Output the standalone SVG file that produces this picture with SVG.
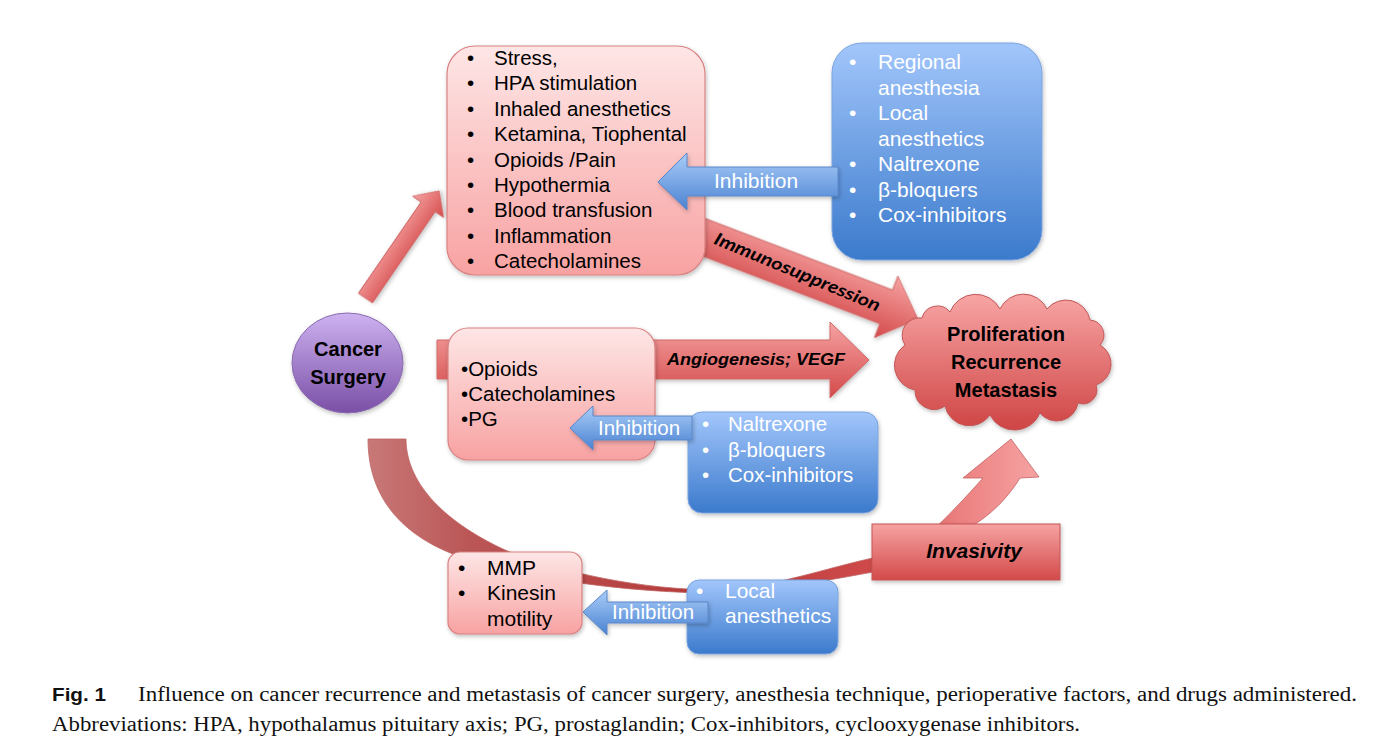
<svg xmlns="http://www.w3.org/2000/svg" width="1378" height="743" viewBox="0 0 1378 743">
<defs>
<linearGradient id="gPink" x1="0" y1="0" x2="0" y2="1"><stop offset="0" stop-color="#fee6e6"/><stop offset="1" stop-color="#f8a2a2"/></linearGradient>
<linearGradient id="gBlue" x1="0" y1="0" x2="0" y2="1"><stop offset="0" stop-color="#a2c6fb"/><stop offset="1" stop-color="#3b7acc"/></linearGradient>
<linearGradient id="gBlueArrow" x1="0" y1="0" x2="0" y2="1"><stop offset="0" stop-color="#aacdf8"/><stop offset="1" stop-color="#4a82d2"/></linearGradient>
<linearGradient id="gRed" x1="0" y1="0" x2="0" y2="1"><stop offset="0" stop-color="#f6a2a2"/><stop offset="1" stop-color="#d44a4a"/></linearGradient>
<linearGradient id="gCloud" x1="0" y1="0" x2="0" y2="1"><stop offset="0" stop-color="#f8a5a5"/><stop offset="1" stop-color="#cf4444"/></linearGradient>
<linearGradient id="gPurple" x1="0" y1="0" x2="0" y2="1"><stop offset="0" stop-color="#cdb2f0"/><stop offset="1" stop-color="#7a4fa6"/></linearGradient>
<linearGradient id="gBand" gradientUnits="userSpaceOnUse" x1="368" y1="440" x2="1040" y2="440">
<stop offset="0" stop-color="#c87878"/><stop offset="0.15" stop-color="#bb5656"/><stop offset="0.5" stop-color="#b53a3a"/><stop offset="0.75" stop-color="#cf4a4a"/><stop offset="0.88" stop-color="#ec8080"/><stop offset="1" stop-color="#f6a3a3"/>
</linearGradient>
<filter id="sh" x="-10%" y="-10%" width="125%" height="130%"><feDropShadow dx="1" dy="2" stdDeviation="2" flood-color="#000" flood-opacity="0.25"/></filter>
</defs>
<style>
.t{font-family:'Liberation Sans',Arial,Helvetica,sans-serif;}
.pink{fill:url(#gPink);stroke:#d98282;stroke-width:1.2;}
.blue{fill:url(#gBlue);stroke:#7aa3de;stroke-width:1;}
.barrow{fill:url(#gBlueArrow);stroke:#5a86c8;stroke-width:1;}
.rarrow{fill:url(#gRed);stroke:#d06a6a;stroke-width:1;}
.blk{fill:#000;}
.wht{fill:#fff;}
.cap{font-family:'Liberation Serif','Times New Roman',serif;font-size:20px;fill:#111;}
</style>
<rect width="1378" height="743" fill="#fff"/>

<g id="connectors">
  <path id="invasivity-curve" d="M368,439 C368,500 405,540 470,560 C520,575 600,590 700,593 C760,593 830,580 873,572 C905,562 950,515 983,478 L963,478 L1011,439 L1039,477 L1020,478 C1000,510 965,545 873,558 C830,567 770,588 720,590 C640,590 560,572 505,550 C440,520 406,480 406,439 Z" fill="url(#gBand)" stroke="#c06262" stroke-width="0.8"/>
  <path id="arrow-up" class="rarrow" transform="translate(365.5,298) rotate(-55.5)" d="M0,-8.5 L110.7,-8.5 L110.7,-18.7 L130,0 L110.7,18.7 L110.7,8.5 L0,8.5 Z" filter="url(#sh)"/>
  <g id="arrow-immuno">
    <path class="rarrow" transform="translate(690,232) rotate(20.9)" d="M0,-18 L210,-18 L210,-33 L244,0 L210,33 L210,18 L0,18 Z" filter="url(#sh)"/>
    <text class="t" transform="translate(795,277.5) rotate(22.5)" text-anchor="middle" font-size="17.5" font-weight="bold" font-style="italic" fill="#000" textLength="178" lengthAdjust="spacingAndGlyphs" style="font-family:Lato,'Liberation Sans',sans-serif">Immunosuppression</text>
  </g>
  <g id="arrow-angio">
    <path class="rarrow" d="M437,340 L830,340 L830,322 L869,360 L830,398 L830,379 L437,379 Z" filter="url(#sh)"/>
    <text class="t" x="667" y="365" font-size="16.8" font-weight="bold" font-style="italic" fill="#000" textLength="178" lengthAdjust="spacingAndGlyphs">Angiogenesis; VEGF</text>
  </g>
</g>

<g id="node-factors">
  <rect class="pink" x="447" y="46" width="258" height="229" rx="28" filter="url(#sh)"/>
  <g class="t blk" font-size="20.5">
    <text x="467" y="65">•</text><text x="494" y="65">Stress,</text>
    <text x="467" y="90.4">•</text><text x="494" y="90.4">HPA stimulation</text>
    <text x="467" y="115.8">•</text><text x="494" y="115.8">Inhaled anesthetics</text>
    <text x="467" y="141.2">•</text><text x="494" y="141.2">Ketamina, Tiophental</text>
    <text x="467" y="166.6">•</text><text x="494" y="166.6">Opioids /Pain</text>
    <text x="467" y="192">•</text><text x="494" y="192">Hypothermia</text>
    <text x="467" y="217.4">•</text><text x="494" y="217.4">Blood transfusion</text>
    <text x="467" y="242.8">•</text><text x="494" y="242.8">Inflammation</text>
    <text x="467" y="268.2">•</text><text x="494" y="268.2">Catecholamines</text>
  </g>
</g>

<g id="node-regional">
  <rect class="blue" x="832" y="43" width="210" height="217" rx="30" filter="url(#sh)"/>
  <g class="t wht" font-size="21">
    <text x="849" y="69">•</text><text x="878" y="69">Regional</text>
    <text x="878" y="94.5">anesthesia</text>
    <text x="849" y="120">•</text><text x="878" y="120">Local</text>
    <text x="878" y="145.5">anesthetics</text>
    <text x="849" y="171">•</text><text x="878" y="171">Naltrexone</text>
    <text x="849" y="196.5">•</text><text x="878" y="196.5">β-bloquers</text>
    <text x="849" y="222">•</text><text x="878" y="222">Cox-inhibitors</text>
  </g>
</g>

<g id="node-surgery">
  <ellipse cx="347.5" cy="363" rx="55.5" ry="50" fill="url(#gPurple)" stroke="#8b6bb0" stroke-width="1" filter="url(#sh)"/>
  <text class="t blk" x="348" y="356" text-anchor="middle" font-size="20" font-weight="bold">Cancer</text>
  <text class="t blk" x="348" y="384" text-anchor="middle" font-size="20" font-weight="bold">Surgery</text>
</g>

<g id="node-mediators">
  <rect class="pink" x="448" y="328" width="207" height="132" rx="20" filter="url(#sh)"/>
  <g class="t blk" font-size="20.5">
    <text x="461" y="376">•Opioids</text>
    <text x="461" y="401">•Catecholamines</text>
    <text x="461" y="426">•PG</text>
  </g>
</g>

<g id="node-drugs">
  <rect class="blue" x="688" y="412" width="190" height="101" rx="14" filter="url(#sh)"/>
  <g class="t wht" font-size="20.5">
    <text x="702" y="431">•</text><text x="728" y="431">Naltrexone</text>
    <text x="702" y="457">•</text><text x="728" y="457">β-bloquers</text>
    <text x="702" y="482">•</text><text x="728" y="482">Cox-inhibitors</text>
  </g>
</g>

<g id="node-outcome">
  <path d="M905,345 A17.5,17.5 0 0 1 922,318 A16,16 0 0 1 950,312 A27.5,27.5 0 0 1 1000,309 A26,26 0 0 1 1047,309 A24.5,24.5 0 0 1 1090,320 A15,15 0 0 1 1100,345 A22,22 0 0 1 1096,385 A14,14 0 0 1 1078,403 A21.5,21.5 0 0 1 1040,413 A27.5,27.5 0 0 1 990,415 A25,25 0 0 1 945,406 A19,19 0 0 1 915,390 A25,25 0 0 1 905,345 Z" fill="url(#gCloud)" stroke="#c25858" stroke-width="1" filter="url(#sh)"/>
  <g class="t blk" font-size="20" font-weight="bold" text-anchor="middle">
    <text x="1006" y="341">Proliferation</text>
    <text x="1006" y="369">Recurrence</text>
    <text x="1006" y="397">Metastasis</text>
  </g>
</g>

<g id="node-invasivity">
  <rect x="872" y="524" width="188" height="56" fill="url(#gRed)" stroke="#c45454" stroke-width="1" filter="url(#sh)"/>
  <text class="t blk" x="974" y="558" text-anchor="middle" font-size="21" font-weight="bold" font-style="italic">Invasivity</text>
</g>

<g id="node-mmp">
  <rect class="pink" x="448" y="552" width="134" height="82" rx="12" filter="url(#sh)"/>
  <g class="t blk" font-size="21">
    <text x="458" y="575">•</text><text x="487" y="575">MMP</text>
    <text x="458" y="600">•</text><text x="487" y="600">Kinesin</text>
    <text x="487" y="626">motility</text>
  </g>
</g>

<g id="node-local">
  <rect class="blue" x="687" y="580" width="151" height="74" rx="12" filter="url(#sh)"/>
  <g class="t wht" font-size="21">
    <text x="696" y="598">•</text><text x="725" y="598">Local</text>
    <text x="725" y="623">anesthetics</text>
  </g>
</g>

<g id="connectors-inhibition">
  <path class="barrow" d="M658,182 L687,153 L687,167 L838,167 L838,196 L687,196 L687,210 Z" filter="url(#sh)"/>
  <text class="t wht" x="714" y="188" font-size="21">Inhibition</text>
  <path class="barrow" d="M570,428 L593,406 L593,416 L692,416 L692,440 L593,440 L593,450 Z" filter="url(#sh)"/>
  <text class="t wht" x="598" y="435" font-size="20.5">Inhibition</text>
  <path class="barrow" d="M583,612 L607,590 L607,602 L708,602 L708,623 L607,623 L607,635 Z" filter="url(#sh)"/>
  <text class="t wht" x="612" y="619" font-size="20.5">Inhibition</text>
</g>

<g id="caption">
  <text x="52" y="701" font-family="'Liberation Sans',Arial,sans-serif" font-size="19" font-weight="bold" fill="#111" textLength="54" lengthAdjust="spacingAndGlyphs">Fig. 1</text>
  <text class="cap" x="138" y="701" textLength="1219" lengthAdjust="spacingAndGlyphs">Influence on cancer recurrence and metastasis of cancer surgery, anesthesia technique, perioperative factors, and drugs administered.</text>
  <text class="cap" x="52" y="731" textLength="1028" lengthAdjust="spacingAndGlyphs">Abbreviations: HPA, hypothalamus pituitary axis; PG, prostaglandin; Cox-inhibitors, cyclooxygenase inhibitors.</text>
</g>
</svg>
